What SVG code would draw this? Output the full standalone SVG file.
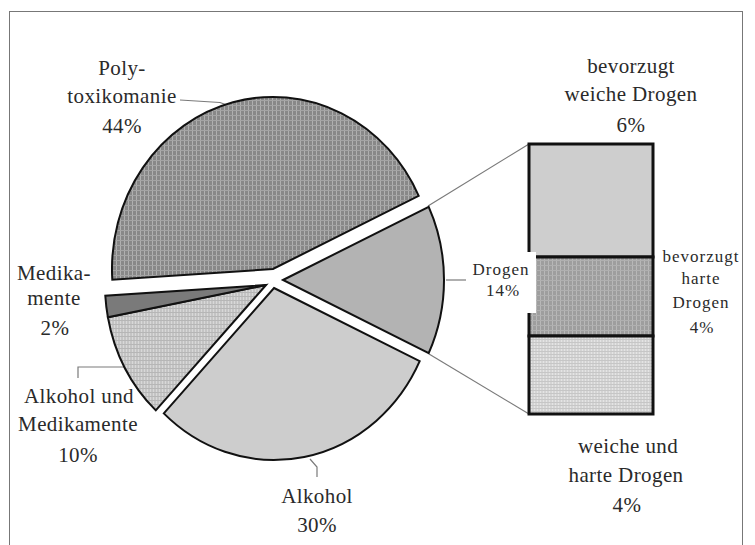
<svg xmlns="http://www.w3.org/2000/svg" width="755" height="545" viewBox="0 0 755 545">
  <style>
    .lbl { font-family: "Liberation Serif", "Times New Roman", serif; font-size: 21px; fill: #2a2a2a; text-anchor: middle; letter-spacing: 0.4px; }
    .sm { font-size: 17px; letter-spacing: 1px; }
    .wedge { stroke: #111; stroke-width: 2; stroke-linejoin: miter; }
    .seg { stroke: #111; stroke-width: 3; }
    .lead { fill: none; stroke: #7a7a7a; stroke-width: 1.2; }
  </style>
  <defs>
    <pattern id="pPoly" width="4" height="5" patternUnits="userSpaceOnUse">
      <rect width="4" height="5" fill="#888888"/>
      <rect width="1" height="5" fill="#b0b0b0"/>
      <rect width="4" height="1" fill="#a4a4a4"/>
    </pattern>
    <pattern id="pAlkMed" width="3" height="4" patternUnits="userSpaceOnUse">
      <rect width="3" height="4" fill="#c4c4c4"/>
      <rect width="1" height="4" fill="#d8d8d8"/>
      <rect width="3" height="1" fill="#b6b6b6"/>
    </pattern>
    <pattern id="pHard" width="4" height="5" patternUnits="userSpaceOnUse">
      <rect width="4" height="5" fill="#9e9e9e"/>
      <rect width="1" height="5" fill="#b8b8b8"/>
      <rect width="4" height="1" fill="#b0b0b0"/>
    </pattern>
    <pattern id="pBoth" width="3" height="3" patternUnits="userSpaceOnUse">
      <rect width="3" height="3" fill="#d4d4d4"/>
      <rect width="1" height="3" fill="#e4e4e4"/>
      <rect width="3" height="1" fill="#c6c6c6"/>
    </pattern>
  </defs>

  <rect id="frame" x="9.5" y="11.5" width="733" height="560" fill="none" stroke="#777" stroke-width="1"/>

  <g id="connectors">
    <path class="lead" d="M180,100 L220,102.5 L227,105"/>
    <path class="lead" d="M78,378 V367 H125"/>
    <path class="lead" d="M310,459 L317,467 V477"/>
    <path class="lead" d="M446,280 H466"/>
    <path class="lead" d="M428,206 L529,144"/>
    <path class="lead" d="M429,354 L529,414"/>
  </g>

  <g id="pie-polytoxikomanie">
    <path class="wedge" fill="url(#pPoly)" d="M273,269 L112.3,279.8 A161,172 0 0 1 418.7,195.8 Z"/>
  </g>
  <g id="pie-drogen">
    <path class="wedge" fill="#b3b3b3" d="M283,280 L428.7,206.8 A161,172 0 0 1 428.7,353.2 Z"/>
  </g>
  <g id="pie-alkohol">
    <path class="wedge" fill="#cdcdcd" d="M274,288 L419.7,361.2 A161,172 0 0 1 163.8,413.4 Z"/>
  </g>
  <g id="pie-alkohol-medikamente">
    <path class="wedge" fill="url(#pAlkMed)" d="M266,285 L155.8,410.4 A161,172 0 0 1 107.9,317.2 Z"/>
  </g>
  <g id="pie-medikamente">
    <path class="wedge" fill="#7a7a7a" d="M266,285 L107.9,317.2 A161,172 0 0 1 105.3,295.8 Z"/>
  </g>

  <g id="bar">
    <rect class="seg" x="529" y="144" width="124" height="113" fill="#cecece"/>
    <rect class="seg" x="529" y="257" width="124" height="79" fill="url(#pHard)"/>
    <rect class="seg" x="529" y="336" width="124" height="78" fill="url(#pBoth)"/>
  </g>

  <g id="label-polytoxikomanie">
    <text class="lbl" x="122" y="75">Poly-</text>
    <text class="lbl" x="122" y="103">toxikomanie</text>
    <text class="lbl" x="122" y="133">44%</text>
  </g>
  <g id="label-medikamente">
    <text class="lbl" x="54" y="280">Medika-</text>
    <text class="lbl" x="54" y="305">mente</text>
    <text class="lbl" x="55" y="335">2%</text>
  </g>
  <g id="label-alkohol-medikamente">
    <text class="lbl" x="79" y="403">Alkohol und</text>
    <text class="lbl" x="78" y="431">Medikamente</text>
    <text class="lbl" x="78" y="462">10%</text>
  </g>
  <g id="label-alkohol">
    <text class="lbl" x="317" y="503">Alkohol</text>
    <text class="lbl" x="317" y="532">30%</text>
  </g>
  <g id="label-drogen">
    <rect x="466" y="252" width="70" height="61" fill="#ffffff"/>
    <text class="lbl sm" x="501" y="275">Drogen</text>
    <text class="lbl sm" x="503" y="296">14%</text>
  </g>
  <g id="label-weich">
    <text class="lbl" x="631" y="73">bevorzugt</text>
    <text class="lbl" x="631" y="101">weiche Drogen</text>
    <text class="lbl" x="631" y="132">6%</text>
  </g>
  <g id="label-hart">
    <text class="lbl sm" x="701" y="262">bevorzugt</text>
    <text class="lbl sm" x="701" y="284">harte</text>
    <text class="lbl sm" x="701" y="308">Drogen</text>
    <text class="lbl sm" x="702" y="333">4%</text>
  </g>
  <g id="label-beide">
    <text class="lbl" x="628" y="453">weiche und</text>
    <text class="lbl" x="626" y="482">harte Drogen</text>
    <text class="lbl" x="627" y="512">4%</text>
  </g>
</svg>
